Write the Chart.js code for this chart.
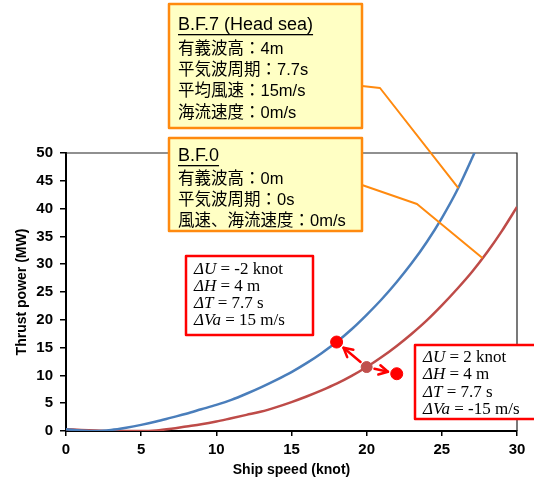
<!DOCTYPE html>
<html>
<head>
<meta charset="utf-8">
<script src="https://cdn.jsdelivr.net/npm/chart.js@4/dist/chart.umd.min.js"></script>
<style>
  html, body { margin: 0; padding: 0; background: #fff; }
  #wrap { width: 534px; height: 479px; position: relative; }
</style>
</head>
<body>
<div id="wrap"><canvas id="c" width="534" height="479"></canvas></div>
<script>
// Ship speed (knot) sample positions
const speeds = [0,1,2,3,4,5,6,7,8,9,10,11,12,13,14,15,16,17,18,19,20,21,22,23,24,25,26,27,28,29,30];
// Thrust power (MW) in B.F.7 head sea
const powerBF7 = [0.3,0.1,0.0,0.2,0.6,1.1,1.7,2.4,3.1,3.9,4.7,5.6,6.7,7.9,9.2,10.6,12.2,14.0,16.0,18.3,20.9,23.7,26.8,30.2,34.0,38.3,43.2,49.0,55.2];
// Thrust power (MW) in calm sea B.F.0
const powerBF0 = [0.3,0.2,0.1,0.0,0.0,0.0,0.1,0.4,0.8,1.2,1.7,2.3,2.9,3.5,4.3,5.2,6.2,7.3,8.5,9.9,11.5,13.3,15.3,17.5,19.9,22.6,25.5,28.6,32.1,36.0,40.3];
// Operating points: base, shifted onto B.F.7 curve, shifted to the right
const basePoint = [{x: 20, y: 11.5}];
const shiftedPoints = [{x: 18, y: 16.0}, {x: 22, y: 10.3}];

const xTicks = [0,5,10,15,20,25,30];
const yTicks = [0,5,10,15,20,25,30,35,40,45,50];

const bf7Lines = ["B.F.7 (Head sea)", "有義波高：4m", "平気波周期：7.7s", "平均風速：15m/s", "海流速度：0m/s"];
const bf0Lines = ["B.F.0", "有義波高：0m", "平気波周期：0s", "風速、海流速度：0m/s"];
const leftDelta = [["ΔU", " = -2 knot"], ["ΔH", " = 4 m"], ["ΔT", " = 7.7 s"], ["ΔVa", " = 15 m/s"]];
const rightDelta = [["ΔU", " = 2 knot"], ["ΔH", " = 4 m"], ["ΔT", " = 7.7 s"], ["ΔVa", " = -15 m/s"]];

const BLUE = '#4A7EBB';
const RED = '#BE4B48';
const ORANGE = '#FF8A0F';
const JP = '"Liberation Sans", "Noto Sans CJK JP", sans-serif';
const AX = '"Liberation Sans", Arial, sans-serif';

function toXY(xs, ys) { return ys.map((y, i) => ({x: xs[i], y: y})); }

function arrow(ctx, x1, y1, x2, y2) {
  const ang = Math.atan2(y2 - y1, x2 - x1);
  const head = 10;
  ctx.beginPath();
  ctx.moveTo(x1, y1);
  ctx.lineTo(x2, y2);
  ctx.stroke();
  ctx.beginPath();
  ctx.moveTo(x2 - head * Math.cos(ang - 0.5), y2 - head * Math.sin(ang - 0.5));
  ctx.lineTo(x2, y2);
  ctx.lineTo(x2 - head * Math.cos(ang + 0.5), y2 - head * Math.sin(ang + 0.5));
  ctx.stroke();
}

const overlay = {
  id: 'overlay',
  beforeDatasetsDraw(chart) {
    const {ctx, chartArea: a} = chart;
    ctx.save();
    // top and right frame of the plot
    ctx.strokeStyle = '#222';
    ctx.lineWidth = 1.2;
    ctx.beginPath();
    ctx.moveTo(a.left, a.top);
    ctx.lineTo(a.right, a.top);
    ctx.lineTo(a.right, a.bottom);
    ctx.stroke();
    ctx.restore();
  },
  afterDraw(chart) {
    const {ctx} = chart;
    const xs = chart.scales.x, ys = chart.scales.y;
    ctx.save();

    // arrows from the base point to the shifted points
    const bx = xs.getPixelForValue(basePoint[0].x), by = ys.getPixelForValue(basePoint[0].y);
    ctx.strokeStyle = '#FF0000';
    ctx.lineWidth = 2.5;
    ctx.lineCap = 'round';
    ctx.lineJoin = 'round';
    shiftedPoints.forEach(p => {
      const px = xs.getPixelForValue(p.x), py = ys.getPixelForValue(p.y);
      const d = Math.hypot(px - bx, py - by);
      const ux = (px - bx) / d, uy = (py - by) / d;
      arrow(ctx, bx + ux * 8, by + uy * 8, px - ux * 9, py - uy * 9);
    });

    // callout leader lines
    ctx.strokeStyle = ORANGE;
    ctx.lineWidth = 2;
    ctx.lineCap = 'butt';
    ctx.beginPath();
    ctx.moveTo(362, 86);
    ctx.lineTo(380, 88);
    ctx.lineTo(xs.getPixelForValue(26.1), ys.getPixelForValue(43.7));
    ctx.stroke();
    ctx.beginPath();
    ctx.moveTo(362, 185);
    ctx.lineTo(417, 204);
    ctx.lineTo(xs.getPixelForValue(27.7), ys.getPixelForValue(31.1));
    ctx.stroke();

    // B.F. callout boxes
    function calloutBox(x, y, w, h, lines, ys0) {
      ctx.fillStyle = '#FFFFC4';
      ctx.fillRect(x, y, w, h);
      ctx.strokeStyle = ORANGE;
      ctx.lineWidth = 2.5;
      ctx.strokeRect(x, y, w, h);
      ctx.fillStyle = '#000';
      ctx.textBaseline = 'middle';
      ctx.textAlign = 'left';
      lines.forEach((t, i) => {
        ctx.font = (i === 0 ? '18px ' : '16.5px ') + JP;
        ctx.fillText(t, x + 9, ys0[i]);
        if (i === 0) {
          const w0 = ctx.measureText(t).width;
          ctx.fillRect(x + 9, ys0[i] + 9, w0, 1.3);
        }
      });
    }
    calloutBox(169, 4, 193, 124, bf7Lines, [25, 49, 70, 91, 113]);
    calloutBox(169, 138, 193, 93, bf0Lines, [156, 179, 200, 221]);

    // condition change boxes
    function deltaBox(x, y, w, h, rows, ys0) {
      ctx.fillStyle = '#FFFFFF';
      ctx.fillRect(x, y, w, h);
      ctx.strokeStyle = '#FF0000';
      ctx.lineWidth = 2.5;
      ctx.strokeRect(x, y, w, h);
      ctx.fillStyle = '#000';
      ctx.textBaseline = 'middle';
      ctx.textAlign = 'left';
      rows.forEach((r, i) => {
        ctx.font = 'italic 17px "Liberation Serif", serif';
        ctx.fillText(r[0], x + 8, ys0[i]);
        const w1 = ctx.measureText(r[0]).width;
        ctx.font = '17px "Liberation Serif", serif';
        ctx.fillText(r[1], x + 8 + w1, ys0[i]);
      });
    }
    deltaBox(186, 256, 127, 79, leftDelta, [270, 287, 304, 321]);
    deltaBox(415, 345, 130, 74, rightDelta, [358, 375, 393, 410]);

    ctx.restore();
  }
};

new Chart(document.getElementById('c'), {
  type: 'line',
  data: {
    datasets: [
      { data: toXY(speeds, powerBF7), borderColor: BLUE, borderWidth: 2.5, pointRadius: 0, cubicInterpolationMode: 'monotone', order: 3 },
      { data: toXY(speeds, powerBF0), borderColor: RED, borderWidth: 2.5, pointRadius: 0, cubicInterpolationMode: 'monotone', order: 3 },
      { type: 'scatter', data: shiftedPoints, pointRadius: 6, pointBackgroundColor: '#FF0000', pointBorderColor: '#FF0000', order: 1 },
      { type: 'scatter', data: basePoint, pointRadius: 5.5, pointBackgroundColor: '#C0504D', pointBorderColor: '#C0504D', order: 1 }
    ]
  },
  options: {
    responsive: false,
    animation: false,
    events: [],
    layout: { padding: { top: 153, right: 17, left: 0, bottom: 0 } },
    plugins: { legend: { display: false }, tooltip: { enabled: false } },
    scales: {
      x: {
        type: 'linear', min: 0, max: 30,
        afterFit(s) { s.height = 48; },
        afterBuildTicks(s) { s.ticks = xTicks.map(v => ({value: v})); },
        grid: { drawOnChartArea: false, drawTicks: true, tickLength: 5, color: '#000', lineWidth: 1.5 },
        border: { display: true, color: '#000', width: 2 },
        ticks: { color: '#000', font: { family: AX, size: 15, weight: 'bold' }, padding: 5, maxRotation: 0 },
        title: { display: true, text: 'Ship speed (knot)', color: '#000', font: { family: AX, size: 14, weight: 'bold' }, padding: { top: 2, bottom: 0 } }
      },
      y: {
        type: 'linear', min: 0, max: 50,
        afterFit(s) { s.width = 66; },
        afterBuildTicks(s) { s.ticks = yTicks.map(v => ({value: v})); },
        grid: { drawOnChartArea: false, drawTicks: true, tickLength: 6, color: '#000', lineWidth: 1.5 },
        border: { display: true, color: '#000', width: 2 },
        ticks: { color: '#000', font: { family: AX, size: 15, weight: 'bold' }, padding: 7 },
        title: { display: true, text: 'Thrust power (MW)', color: '#000', font: { family: AX, size: 14, weight: 'bold' }, padding: { top: 14, bottom: 4 } }
      }
    }
  },
  plugins: [overlay]
});
</script>
</body>
</html>
